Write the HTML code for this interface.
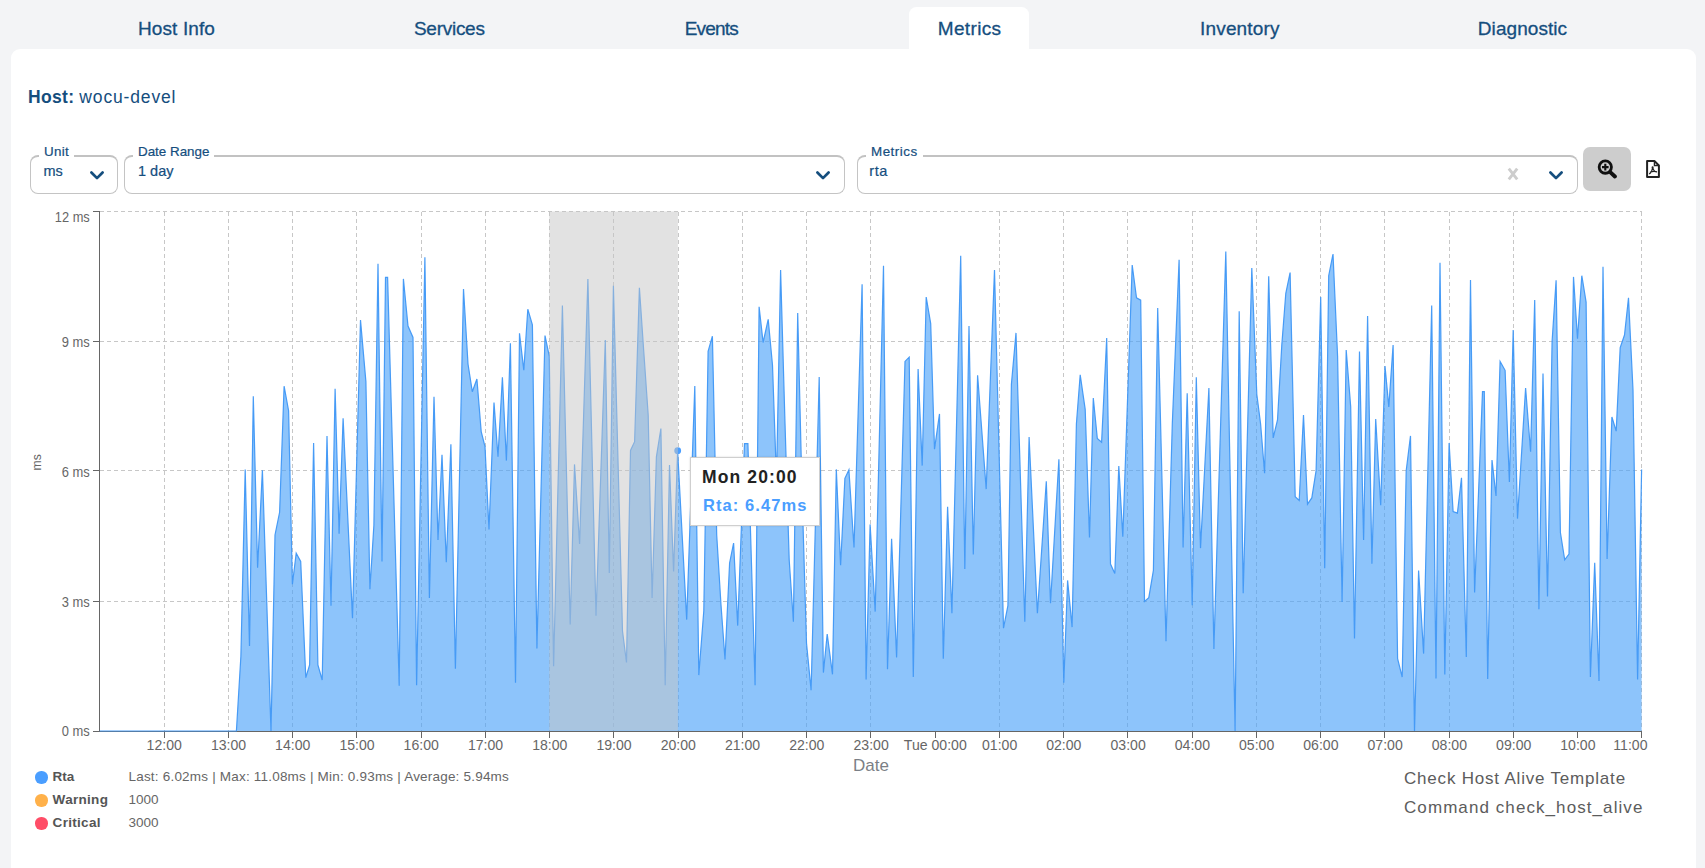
<!DOCTYPE html>
<html><head><meta charset="utf-8"><title>Metrics</title>
<style>
*{box-sizing:border-box;margin:0;padding:0}
html,body{width:1705px;height:868px;overflow:hidden;background:#f3f4f6;font-family:"Liberation Sans",sans-serif}
.abs{position:absolute}
.card{position:absolute;left:11px;top:49px;width:1685px;height:840px;background:#fff;border-radius:9px}
.active{position:absolute;left:909px;top:7px;width:120px;height:50px;background:#fff;border-radius:7.5px 7.5px 0 0}
.tab{position:absolute;top:17px;-webkit-text-stroke:0.3px #154e7e;width:200px;text-align:center;font-size:19px;line-height:24px;color:#154e7e;white-space:nowrap}
.host{position:absolute;left:28px;top:86px;font-size:17.5px;line-height:22px;color:#154e7e;white-space:nowrap}
.host b{letter-spacing:0.35px}
.host span{letter-spacing:0.85px}
.field{position:absolute;top:155px;height:39px;border:1px solid #c4c4c4;border-top:2px solid #c2c2c2;border-radius:8px;background:#fff}
.legend{-webkit-text-stroke:0.2px #154e7e;position:absolute;top:-12.7px;background:#fff;font-size:13.4px;line-height:16px;color:#154e7e;padding:0 5px;white-space:nowrap}
.val{-webkit-text-stroke:0.2px #154e7e;position:absolute;top:5px;font-size:14.5px;line-height:18px;color:#154e7e;white-space:nowrap}
.chart{position:absolute;left:0;top:0}
.zoombtn{position:absolute;left:1583px;top:147px;width:48px;height:44px;background:#cdcdcd;border-radius:7px}
.tip{position:absolute;left:690px;top:457px;width:130px;height:68.5px;background:#fff;border:1px solid #cfcfcf;box-shadow:0 0 2px rgba(0,0,0,.15)}
.tip .a{position:absolute;left:11px;top:8.5px;font-size:17.5px;line-height:20px;font-weight:700;color:#222;letter-spacing:1.12px;white-space:nowrap}
.tip .b{position:absolute;left:12px;top:36.8px;font-size:16.5px;line-height:20px;font-weight:700;color:#4a9eff;letter-spacing:1.08px;white-space:nowrap}
.dot{position:absolute;margin-top:0.3px;left:35.3px;width:12.4px;height:12.4px;border-radius:50%}
.lg{position:absolute;left:52.6px;font-size:13.5px;line-height:16px;font-weight:700;color:#555;white-space:nowrap}
.lv{position:absolute;left:128.5px;font-size:13.5px;line-height:16px;color:#666;white-space:nowrap}
.rt{position:absolute;left:1404px;font-size:17px;line-height:20px;color:#5c5c5c;white-space:nowrap}
</style></head><body>
<div class="active"></div>
<div class="card"></div>
<div class="tab" style="left:76.5px;letter-spacing:0.106px">Host Info</div>
<div class="tab" style="left:349.3px;letter-spacing:-0.270px">Services</div>
<div class="tab" style="left:611.4px;letter-spacing:-0.782px">Events</div>
<div class="tab" style="left:869.6px;letter-spacing:0.353px">Metrics</div>
<div class="tab" style="left:1139.9px;letter-spacing:0.182px">Inventory</div>
<div class="tab" style="left:1422.5px;letter-spacing:0.058px">Diagnostic</div>
<div class="host"><b>Host:</b> <span>wocu-devel</span></div>

<div class="field" style="left:30px;width:88px"><div class="legend" style="left:8px;letter-spacing:0.3px;height:14px">Unit</div><div class="val" style="left:12.5px">ms</div>
<svg class="abs" style="left:57.5px;top:12.6px" width="16" height="12" viewBox="0 0 16 12"><path d="M2.4,2.5 L8,8.1 L13.6,2.5" fill="none" stroke="#154e7e" stroke-width="2.7" stroke-linecap="round" stroke-linejoin="round"/></svg></div>

<div class="field" style="left:124px;width:721px"><div class="legend" style="left:8px;height:14px">Date Range</div><div class="val" style="left:13px">1 day</div>
<svg class="abs" style="left:689.7px;top:12.6px" width="16" height="12" viewBox="0 0 16 12"><path d="M2.4,2.5 L8,8.1 L13.6,2.5" fill="none" stroke="#154e7e" stroke-width="2.7" stroke-linecap="round" stroke-linejoin="round"/></svg></div>

<div class="field" style="left:857px;width:721px"><div class="legend" style="left:8px;height:14px;letter-spacing:0.5px">Metrics</div><div class="val" style="left:11.3px;letter-spacing:0.5px">rta</div>
<svg class="abs" style="left:649.2px;top:10.4px" width="12" height="14" viewBox="0 0 12 14"><path d="M1.8,1.6 L10.2,12.4 M10.2,1.6 L1.8,12.4" fill="none" stroke="#cdcdcd" stroke-width="2.9"/></svg>
<svg class="abs" style="left:690.2px;top:12.6px" width="16" height="12" viewBox="0 0 16 12"><path d="M2.4,2.5 L8,8.1 L13.6,2.5" fill="none" stroke="#154e7e" stroke-width="2.7" stroke-linecap="round" stroke-linejoin="round"/></svg></div>

<div class="zoombtn"></div>
<svg class="abs" style="left:1597px;top:159px" width="21" height="20" viewBox="0 0 21 20"><circle cx="8.3" cy="8.1" r="6.15" fill="none" stroke="#111" stroke-width="2.8"/><path d="M13.2,13.1 L17.9,17.5" stroke="#111" stroke-width="3.9" stroke-linecap="round"/><path d="M5,8.1 H11.6 M8.3,4.8 V11.4" stroke="#111" stroke-width="2.1"/></svg>
<svg class="abs" style="left:1645px;top:159px" width="16" height="20" viewBox="0 0 16 20"><path d="M2.1,2 H9.4 L13.9,6.5 V18 H2.1 Z" fill="none" stroke="#222" stroke-width="2" stroke-linejoin="round"/><path d="M9.4,2 V6.5 H13.9" fill="none" stroke="#222" stroke-width="1.3"/><path d="M4.2,15 C6.2,13.6 7.4,11.2 7.6,8 C8.2,11.2 9.8,13 12,12.8 M5,13 C7.4,12.2 9.8,12 12,12.8" fill="none" stroke="#222" stroke-width="1.3"/><circle cx="7.6" cy="8.2" r="1" fill="#222"/></svg>

<svg class="chart" width="1705" height="868" viewBox="0 0 1705 868">
<g stroke="#c7c7c7" stroke-width="1" stroke-dasharray="4 3" fill="none" shape-rendering="crispEdges">
<path d="M99.7,211.5 H1641.6"/>
<path d="M99.7,341.5 H1641.6"/>
<path d="M99.7,470.5 H1641.6"/>
<path d="M99.7,601.5 H1641.6"/>
<path d="M164,211.5 V731.2"/>
<path d="M228.3,211.5 V731.2"/>
<path d="M292.5,211.5 V731.2"/>
<path d="M356.8,211.5 V731.2"/>
<path d="M421,211.5 V731.2"/>
<path d="M485.3,211.5 V731.2"/>
<path d="M549.6,211.5 V731.2"/>
<path d="M613.8,211.5 V731.2"/>
<path d="M678.1,211.5 V731.2"/>
<path d="M742.3,211.5 V731.2"/>
<path d="M806.6,211.5 V731.2"/>
<path d="M870.9,211.5 V731.2"/>
<path d="M999.4,211.5 V731.2"/>
<path d="M1063.6,211.5 V731.2"/>
<path d="M1127.9,211.5 V731.2"/>
<path d="M1192.2,211.5 V731.2"/>
<path d="M1256.4,211.5 V731.2"/>
<path d="M1320.7,211.5 V731.2"/>
<path d="M1384.9,211.5 V731.2"/>
<path d="M1449.2,211.5 V731.2"/>
<path d="M1513.5,211.5 V731.2"/>
<path d="M1641.6,211.5 V731.2"/>
<path d="M999.6,211.5 V731.2"/>
</g>
<path d="M99.7,731 L236.4,731 L240.9,656 L245.2,469.4 L249.5,646 L253.3,396.3 L257.6,567.8 L262.4,470.2 L271,731 L275,535 L279.6,512.3 L284.1,386.2 L288.6,410.7 L292.4,584.2 L296.2,553.2 L300.7,561.5 L305.8,677.6 L309.6,665 L313.6,442.9 L317.9,665 L322.2,680 L327,435.9 L331,605.7 L335.1,388.7 L339.1,533.8 L343.1,418.2 L352.5,618.3 L360.5,320.1 L365.9,381.6 L369.9,589.3 L373.9,525 L378,263.8 L382,561.5 L385.5,277.4 L387.6,277.4 L399.2,685.7 L403.4,278.9 L408,326 L413,337.5 L416.6,685.2 L424.9,257.2 L429.4,598.1 L434,396.8 L438,540 L442,454.8 L446.3,562.3 L450.9,444.2 L455.4,668.8 L463.5,289 L468,364 L472.3,391.7 L476.9,379 L481.2,431.6 L485,446.7 L489,529.5 L494,402.6 L498,456.8 L502.4,377.3 L506.4,460.6 L510.4,343.3 L515.5,682.7 L519.5,333.2 L523.8,370.3 L527.8,309.2 L532.4,324.9 L536.9,648.6 L545,335.5 L549.3,356.4 L553.6,666.3 L562.4,305.4 L570.2,624.6 L574.5,464.4 L579.6,543.9 L587.9,278.9 L596,615.8 L605.3,340 L609.3,572.9 L613.4,285.7 L622.5,631 L626.5,662.5 L630.5,450.5 L634.6,441.7 L639.4,287.8 L643.8,352 L648.2,415 L652.1,598 L656.4,456.8 L660.9,428.5 L665.2,685.2 L669.5,464.9 L673.6,571.6 L677.6,450.5 L686.7,619.6 L694.8,385.9 L698.8,675.1 L703.8,610.7 L708.1,351.4 L712.4,336.2 L716.7,535 L721,605 L725,659.4 L729.6,563 L733.6,543.1 L737.7,625.6 L744.5,443.7 L747.9,443.7 L755.1,685.2 L759.1,306.7 L763.1,342.5 L768.2,319.3 L772.5,365.2 L776.5,480 L780.6,270.1 L784.9,420 L789.2,560 L793.4,621.7 L797.7,313 L802,490 L806.5,643 L811.1,690.2 L819.2,377.1 L823.4,672.6 L827.2,634 L832.5,674.3 L836.3,469.4 L840.6,565.3 L844.9,478.3 L848.9,469.9 L854,547.4 L862.1,284.2 L866.1,679.4 L870.1,524.4 L875.2,611.6 L883.5,265.8 L887.5,669.3 L891.6,538.8 L896.6,657.4 L905,361.4 L909.2,357.2 L913.3,677.1 L918.1,369 L922.2,465.6 L926.2,297.1 L930.7,323.6 L934.5,449.2 L939.5,413.9 L943.3,658.7 L947.6,506.8 L951.9,613.3 L960.7,255.7 L964.8,569.1 L969,326.1 L973.3,554.6 L977.6,375.3 L986.2,489.1 L994.5,269.9 L1003.5,628.2 L1007.9,605.7 L1011.4,384.2 L1016,332.9 L1024.8,621.7 L1029.1,437.1 L1037.4,613.3 L1046.3,481.3 L1050.5,603.2 L1058.9,459.3 L1063.8,682.7 L1067.6,580.4 L1072.1,627.1 L1076.4,424 L1080.2,374.8 L1085.2,409.4 L1089.5,537.6 L1093.3,398 L1097.3,438.4 L1101.6,442.2 L1106.7,338 L1110.5,564 L1114.8,573.4 L1118.8,466.1 L1122.8,536.8 L1132.2,265.1 L1136.5,297.9 L1140.7,300.1 L1144.5,601.4 L1148.8,597.6 L1153.4,570.4 L1157.7,308 L1166,641.3 L1172.3,424 L1179.1,259.8 L1183.1,547.6 L1187.2,393.2 L1192.2,605.2 L1196.3,377.3 L1200.5,548.1 L1208.9,388 L1213.9,649.1 L1225.8,251.4 L1235.1,731 L1239.2,311.2 L1243.2,593.3 L1251.8,268.1 L1256.8,394.3 L1260.6,424 L1264.6,473.2 L1268.7,276.2 L1273.2,437.9 L1277.5,420 L1281.8,345 L1285.8,293.3 L1290.1,272.6 L1295.2,496.7 L1299.2,500.5 L1303.5,415 L1307.5,504.2 L1311.8,497.9 L1316.1,470.7 L1320.7,297.1 L1324.7,568.3 L1328.7,275.7 L1333,254 L1337.6,356.4 L1342.1,601.9 L1346.2,350.1 L1350.7,406.9 L1354.5,638.5 L1359.5,351.4 L1363.6,540.1 L1367.6,316 L1371.9,563.8 L1375.7,419 L1380.7,505.3 L1385,366 L1388.8,406.9 L1393.1,345 L1397.6,658.7 L1402.2,677.1 L1406.2,470.7 L1410.5,435.9 L1414.5,731 L1418.6,570.6 L1423.6,653.6 L1431.7,305.4 L1436,678.4 L1440,262.8 L1444.8,674.6 L1449.1,442.9 L1453.1,511.6 L1457.4,513.1 L1461.5,477.7 L1466.3,656.9 L1470.5,279.9 L1474.6,592.6 L1482.5,391.7 L1484.3,391.7 L1487.7,678.9 L1492,460.1 L1496,495.9 L1500.1,361.4 L1505.1,370.3 L1509.4,482 L1513.2,329.9 L1517.5,518.6 L1525.6,388 L1530.6,451.8 L1534.7,300.1 L1538.9,609.3 L1543,373.6 L1547.5,596.5 L1552.1,341.3 L1556.1,280.2 L1560.4,532.5 L1564.7,559.8 L1569,554 L1573.5,276.9 L1577.5,338.7 L1581.8,275.7 L1586.1,302.1 L1590.4,677.1 L1594.7,562.8 L1599,680.9 L1603,266.8 L1607.1,559 L1611.9,417 L1616.2,431.1 L1620.2,347.6 L1624.5,335 L1628.5,297.9 L1633,390 L1637.6,679.4 L1641.6,469.4 L1641.6,731.2 L99.7,731.2 Z" fill="#47a0f8" fill-opacity="0.62" stroke="none"/>
<g stroke="#666" stroke-width="1" fill="none" shape-rendering="crispEdges">
<path d="M99.7,211.5 V731.2"/>
<path d="M99.7,731.2 H1641.6"/>
<path d="M93.2,211.5 H99.7"/>
<path d="M93.2,341.5 H99.7"/>
<path d="M93.2,470.5 H99.7"/>
<path d="M93.2,601.5 H99.7"/>
<path d="M93.2,731.2 H99.7"/>
<path d="M164,731.2 V737.7"/>
<path d="M228.3,731.2 V737.7"/>
<path d="M292.5,731.2 V737.7"/>
<path d="M356.8,731.2 V737.7"/>
<path d="M421,731.2 V737.7"/>
<path d="M485.3,731.2 V737.7"/>
<path d="M549.6,731.2 V737.7"/>
<path d="M613.8,731.2 V737.7"/>
<path d="M678.1,731.2 V737.7"/>
<path d="M742.3,731.2 V737.7"/>
<path d="M806.6,731.2 V737.7"/>
<path d="M870.9,731.2 V737.7"/>
<path d="M935.1,731.2 V737.7"/>
<path d="M999.4,731.2 V737.7"/>
<path d="M1063.6,731.2 V737.7"/>
<path d="M1127.9,731.2 V737.7"/>
<path d="M1192.2,731.2 V737.7"/>
<path d="M1256.4,731.2 V737.7"/>
<path d="M1320.7,731.2 V737.7"/>
<path d="M1384.9,731.2 V737.7"/>
<path d="M1449.2,731.2 V737.7"/>
<path d="M1513.5,731.2 V737.7"/>
<path d="M1577.7,731.2 V737.7"/>
<path d="M1641.6,731.2 V737.7"/>
</g>
<path d="M99.7,731 L236.4,731 L240.9,656 L245.2,469.4 L249.5,646 L253.3,396.3 L257.6,567.8 L262.4,470.2 L271,731 L275,535 L279.6,512.3 L284.1,386.2 L288.6,410.7 L292.4,584.2 L296.2,553.2 L300.7,561.5 L305.8,677.6 L309.6,665 L313.6,442.9 L317.9,665 L322.2,680 L327,435.9 L331,605.7 L335.1,388.7 L339.1,533.8 L343.1,418.2 L352.5,618.3 L360.5,320.1 L365.9,381.6 L369.9,589.3 L373.9,525 L378,263.8 L382,561.5 L385.5,277.4 L387.6,277.4 L399.2,685.7 L403.4,278.9 L408,326 L413,337.5 L416.6,685.2 L424.9,257.2 L429.4,598.1 L434,396.8 L438,540 L442,454.8 L446.3,562.3 L450.9,444.2 L455.4,668.8 L463.5,289 L468,364 L472.3,391.7 L476.9,379 L481.2,431.6 L485,446.7 L489,529.5 L494,402.6 L498,456.8 L502.4,377.3 L506.4,460.6 L510.4,343.3 L515.5,682.7 L519.5,333.2 L523.8,370.3 L527.8,309.2 L532.4,324.9 L536.9,648.6 L545,335.5 L549.3,356.4 L553.6,666.3 L562.4,305.4 L570.2,624.6 L574.5,464.4 L579.6,543.9 L587.9,278.9 L596,615.8 L605.3,340 L609.3,572.9 L613.4,285.7 L622.5,631 L626.5,662.5 L630.5,450.5 L634.6,441.7 L639.4,287.8 L643.8,352 L648.2,415 L652.1,598 L656.4,456.8 L660.9,428.5 L665.2,685.2 L669.5,464.9 L673.6,571.6 L677.6,450.5 L686.7,619.6 L694.8,385.9 L698.8,675.1 L703.8,610.7 L708.1,351.4 L712.4,336.2 L716.7,535 L721,605 L725,659.4 L729.6,563 L733.6,543.1 L737.7,625.6 L744.5,443.7 L747.9,443.7 L755.1,685.2 L759.1,306.7 L763.1,342.5 L768.2,319.3 L772.5,365.2 L776.5,480 L780.6,270.1 L784.9,420 L789.2,560 L793.4,621.7 L797.7,313 L802,490 L806.5,643 L811.1,690.2 L819.2,377.1 L823.4,672.6 L827.2,634 L832.5,674.3 L836.3,469.4 L840.6,565.3 L844.9,478.3 L848.9,469.9 L854,547.4 L862.1,284.2 L866.1,679.4 L870.1,524.4 L875.2,611.6 L883.5,265.8 L887.5,669.3 L891.6,538.8 L896.6,657.4 L905,361.4 L909.2,357.2 L913.3,677.1 L918.1,369 L922.2,465.6 L926.2,297.1 L930.7,323.6 L934.5,449.2 L939.5,413.9 L943.3,658.7 L947.6,506.8 L951.9,613.3 L960.7,255.7 L964.8,569.1 L969,326.1 L973.3,554.6 L977.6,375.3 L986.2,489.1 L994.5,269.9 L1003.5,628.2 L1007.9,605.7 L1011.4,384.2 L1016,332.9 L1024.8,621.7 L1029.1,437.1 L1037.4,613.3 L1046.3,481.3 L1050.5,603.2 L1058.9,459.3 L1063.8,682.7 L1067.6,580.4 L1072.1,627.1 L1076.4,424 L1080.2,374.8 L1085.2,409.4 L1089.5,537.6 L1093.3,398 L1097.3,438.4 L1101.6,442.2 L1106.7,338 L1110.5,564 L1114.8,573.4 L1118.8,466.1 L1122.8,536.8 L1132.2,265.1 L1136.5,297.9 L1140.7,300.1 L1144.5,601.4 L1148.8,597.6 L1153.4,570.4 L1157.7,308 L1166,641.3 L1172.3,424 L1179.1,259.8 L1183.1,547.6 L1187.2,393.2 L1192.2,605.2 L1196.3,377.3 L1200.5,548.1 L1208.9,388 L1213.9,649.1 L1225.8,251.4 L1235.1,731 L1239.2,311.2 L1243.2,593.3 L1251.8,268.1 L1256.8,394.3 L1260.6,424 L1264.6,473.2 L1268.7,276.2 L1273.2,437.9 L1277.5,420 L1281.8,345 L1285.8,293.3 L1290.1,272.6 L1295.2,496.7 L1299.2,500.5 L1303.5,415 L1307.5,504.2 L1311.8,497.9 L1316.1,470.7 L1320.7,297.1 L1324.7,568.3 L1328.7,275.7 L1333,254 L1337.6,356.4 L1342.1,601.9 L1346.2,350.1 L1350.7,406.9 L1354.5,638.5 L1359.5,351.4 L1363.6,540.1 L1367.6,316 L1371.9,563.8 L1375.7,419 L1380.7,505.3 L1385,366 L1388.8,406.9 L1393.1,345 L1397.6,658.7 L1402.2,677.1 L1406.2,470.7 L1410.5,435.9 L1414.5,731 L1418.6,570.6 L1423.6,653.6 L1431.7,305.4 L1436,678.4 L1440,262.8 L1444.8,674.6 L1449.1,442.9 L1453.1,511.6 L1457.4,513.1 L1461.5,477.7 L1466.3,656.9 L1470.5,279.9 L1474.6,592.6 L1482.5,391.7 L1484.3,391.7 L1487.7,678.9 L1492,460.1 L1496,495.9 L1500.1,361.4 L1505.1,370.3 L1509.4,482 L1513.2,329.9 L1517.5,518.6 L1525.6,388 L1530.6,451.8 L1534.7,300.1 L1538.9,609.3 L1543,373.6 L1547.5,596.5 L1552.1,341.3 L1556.1,280.2 L1560.4,532.5 L1564.7,559.8 L1569,554 L1573.5,276.9 L1577.5,338.7 L1581.8,275.7 L1586.1,302.1 L1590.4,677.1 L1594.7,562.8 L1599,680.9 L1603,266.8 L1607.1,559 L1611.9,417 L1616.2,431.1 L1620.2,347.6 L1624.5,335 L1628.5,297.9 L1633,390 L1637.6,679.4 L1641.6,469.4" fill="none" stroke="#3f97f6" stroke-width="1.2" stroke-linejoin="miter" stroke-opacity="0.95"/>
<circle cx="677.7" cy="450.7" r="3.4" fill="#4a9eff"/>
<rect x="549.3" y="211.5" width="128.6" height="519.0" fill="#c6c6c6" fill-opacity="0.5"/>
<g font-family="Liberation Sans, sans-serif" font-size="14.3" fill="#666">
<text x="89.8" y="222.1" text-anchor="end" textLength="35" lengthAdjust="spacingAndGlyphs">12 ms</text>
<text x="89.8" y="346.9" text-anchor="end" textLength="28" lengthAdjust="spacingAndGlyphs">9 ms</text>
<text x="89.8" y="476.5" text-anchor="end" textLength="28" lengthAdjust="spacingAndGlyphs">6 ms</text>
<text x="89.8" y="606.5" text-anchor="end" textLength="28" lengthAdjust="spacingAndGlyphs">3 ms</text>
<text x="89.8" y="736.1" text-anchor="end" textLength="28" lengthAdjust="spacingAndGlyphs">0 ms</text>
</g>
<g font-family="Liberation Sans, sans-serif" font-size="14.3" fill="#666">
<text transform="translate(164.2,749.7) scale(0.985,1)" text-anchor="middle">12:00</text>
<text transform="translate(228.5,749.7) scale(0.985,1)" text-anchor="middle">13:00</text>
<text transform="translate(292.7,749.7) scale(0.985,1)" text-anchor="middle">14:00</text>
<text transform="translate(357,749.7) scale(0.985,1)" text-anchor="middle">15:00</text>
<text transform="translate(421.2,749.7) scale(0.985,1)" text-anchor="middle">16:00</text>
<text transform="translate(485.5,749.7) scale(0.985,1)" text-anchor="middle">17:00</text>
<text transform="translate(549.8,749.7) scale(0.985,1)" text-anchor="middle">18:00</text>
<text transform="translate(614,749.7) scale(0.985,1)" text-anchor="middle">19:00</text>
<text transform="translate(678.3,749.7) scale(0.985,1)" text-anchor="middle">20:00</text>
<text transform="translate(742.5,749.7) scale(0.985,1)" text-anchor="middle">21:00</text>
<text transform="translate(806.8,749.7) scale(0.985,1)" text-anchor="middle">22:00</text>
<text transform="translate(871.1,749.7) scale(0.985,1)" text-anchor="middle">23:00</text>
<text transform="translate(935.3,749.7) scale(0.985,1)" text-anchor="middle">Tue 00:00</text>
<text transform="translate(999.6,749.7) scale(0.985,1)" text-anchor="middle">01:00</text>
<text transform="translate(1063.8,749.7) scale(0.985,1)" text-anchor="middle">02:00</text>
<text transform="translate(1128.1,749.7) scale(0.985,1)" text-anchor="middle">03:00</text>
<text transform="translate(1192.4,749.7) scale(0.985,1)" text-anchor="middle">04:00</text>
<text transform="translate(1256.6,749.7) scale(0.985,1)" text-anchor="middle">05:00</text>
<text transform="translate(1320.9,749.7) scale(0.985,1)" text-anchor="middle">06:00</text>
<text transform="translate(1385.1,749.7) scale(0.985,1)" text-anchor="middle">07:00</text>
<text transform="translate(1449.4,749.7) scale(0.985,1)" text-anchor="middle">08:00</text>
<text transform="translate(1513.7,749.7) scale(0.985,1)" text-anchor="middle">09:00</text>
<text transform="translate(1577.9,749.7) scale(0.985,1)" text-anchor="middle">10:00</text>
<text transform="translate(1647.5,749.7) scale(0.985,1)" text-anchor="end">11:00</text>
</g>
<text x="871" y="771.4" text-anchor="middle" font-family="Liberation Sans, sans-serif" font-size="17" fill="#7b7f86">Date</text>
<text transform="translate(40.8,462.3) rotate(-90)" text-anchor="middle" font-family="Liberation Sans, sans-serif" font-size="12.2" fill="#666">ms</text>
</svg>

<div class="tip"><div class="a">Mon 20:00</div><div class="b">Rta: 6.47ms</div></div>

<div class="dot" style="top:771px;background:#4a9eff"></div><div class="lg" style="top:769px">Rta</div><div class="lv" style="top:769px;letter-spacing:0.2px">Last: 6.02ms | Max: 11.08ms | Min: 0.93ms | Average: 5.94ms</div>
<div class="dot" style="top:794px;background:#ffb14a"></div><div class="lg" style="top:792px;letter-spacing:0.3px">Warning</div><div class="lv" style="top:792px">1000</div>
<div class="dot" style="top:817px;background:#ff4d67"></div><div class="lg" style="top:815px;letter-spacing:0.3px">Critical</div><div class="lv" style="top:815px">3000</div>

<div class="rt" style="top:769px;letter-spacing:0.8px">Check Host Alive Template</div>
<div class="rt" style="top:797.9px;letter-spacing:1.08px">Command check_host_alive</div>
</body></html>
